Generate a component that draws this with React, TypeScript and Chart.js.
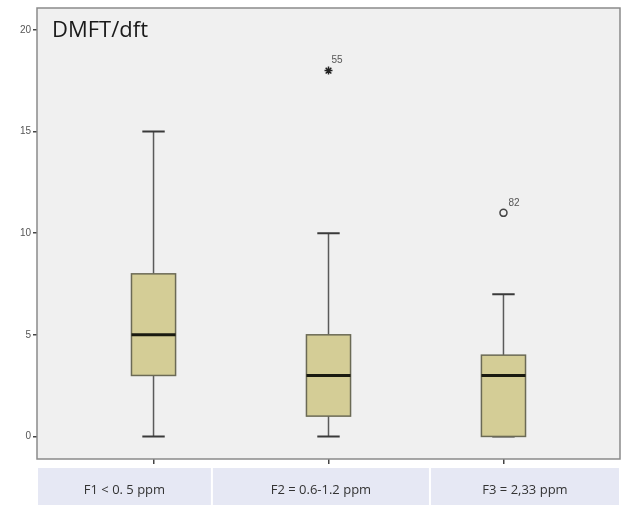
import React, { useEffect, useRef } from "react";
import { Chart, registerables } from "chart.js";

Chart.register(...registerables);

const categories = ["F1 < 0. 5 ppm", "F2 = 0.6-1.2 ppm", "F3 = 2,33 ppm"];
const positions = [1, 2, 3];
const mins = [0, 0, 0];
const q1s = [3, 1, 0];
const medians = [5, 3, 3];
const q3s = [8, 5, 4];
const maxs = [15, 10, 7];
const extremeValues: (number | null)[] = [null, 18, null];
const extremeIds: (string | null)[] = [null, "55", null];
const outlierValues: (number | null)[] = [null, null, 11];
const outlierIds: (string | null)[] = [null, null, "82"];
const yTicks = [0, 5, 10, 15, 20];
const chartTitle = "DMFT/dft";

const boxPlugin = {
  id: "boxPlugin",
  beforeDraw(chart: any) {
    const { ctx, chartArea } = chart;
    ctx.save();
    ctx.fillStyle = "#f0f0f0";
    ctx.fillRect(chartArea.left, chartArea.top, chartArea.right - chartArea.left, chartArea.bottom - chartArea.top);
    ctx.restore();
  },
  beforeDatasetsDraw(chart: any) {
    const { ctx } = chart;
    const xs = chart.scales.x;
    const ys = chart.scales.y;
    const boxHalf = 0.126;
    const capHalf = 0.064;
    ctx.save();
    positions.forEach((p, i) => {
      const cx = xs.getPixelForValue(p);
      const xl = xs.getPixelForValue(p - boxHalf);
      const xr = xs.getPixelForValue(p + boxHalf);
      const cl = xs.getPixelForValue(p - capHalf);
      const cr = xs.getPixelForValue(p + capHalf);
      const yMin = ys.getPixelForValue(mins[i]);
      const yQ1 = ys.getPixelForValue(q1s[i]);
      const yMed = ys.getPixelForValue(medians[i]);
      const yQ3 = ys.getPixelForValue(q3s[i]);
      const yMax = ys.getPixelForValue(maxs[i]);
      // whiskers
      ctx.strokeStyle = "#5a5a5a";
      ctx.lineWidth = 1.5;
      ctx.beginPath();
      ctx.moveTo(cx, yMax);
      ctx.lineTo(cx, yQ3);
      ctx.moveTo(cx, yQ1);
      ctx.lineTo(cx, yMin);
      ctx.stroke();
      ctx.lineWidth = 2;
      ctx.strokeStyle = "#3a3a3a";
      ctx.beginPath();
      ctx.moveTo(cl, yMax);
      ctx.lineTo(cr, yMax);
      ctx.moveTo(cl, yMin);
      ctx.lineTo(cr, yMin);
      ctx.stroke();
      // box
      ctx.fillStyle = "#d4cd96";
      ctx.fillRect(xl, yQ3, xr - xl, yQ1 - yQ3);
      ctx.strokeStyle = "#6b6a55";
      ctx.lineWidth = 1.5;
      ctx.strokeRect(xl, yQ3, xr - xl, yQ1 - yQ3);
      // median
      ctx.strokeStyle = "#1a1a10";
      ctx.lineWidth = 3;
      ctx.beginPath();
      ctx.moveTo(xl, yMed);
      ctx.lineTo(xr, yMed);
      ctx.stroke();
    });
    ctx.restore();
  },
  afterDraw(chart: any) {
    const { ctx, chartArea } = chart;
    const xs = chart.scales.x;
    const ys = chart.scales.y;
    ctx.save();
    // plot border
    ctx.strokeStyle = "#8a8a8a";
    ctx.lineWidth = 1.5;
    ctx.strokeRect(chartArea.left, chartArea.top, chartArea.right - chartArea.left, chartArea.bottom - chartArea.top);
    // title
    ctx.fillStyle = "#1a1a1a";
    ctx.font = "22px 'Open Sans', sans-serif";
    ctx.textAlign = "left";
    ctx.textBaseline = "middle";
    ctx.fillText(chartTitle, chartArea.left + 15, chartArea.top + 23);
    // outlier labels
    ctx.fillStyle = "#555";
    ctx.font = "10px 'Liberation Sans', sans-serif";
    ctx.textBaseline = "middle";
    positions.forEach((p, i) => {
      const ev = extremeValues[i];
      if (ev !== null) {
        ctx.fillText(String(extremeIds[i]), xs.getPixelForValue(p) + 3, ys.getPixelForValue(ev) - 10);
      }
      const ov = outlierValues[i];
      if (ov !== null) {
        ctx.fillText(String(outlierIds[i]), xs.getPixelForValue(p) + 5, ys.getPixelForValue(ov) - 10);
      }
    });
    // category band
    const w = chartArea.right - chartArea.left;
    const bounds = [0, 0.3, 0.674, 1].map((f) => chartArea.left + f * w);
    const bandTop = chartArea.bottom + 9;
    const bandBottom = chart.height;
    categories.forEach((c, i) => {
      const l = bounds[i];
      const r = bounds[i + 1];
      ctx.fillStyle = "#e6e8f4";
      ctx.fillRect(l + 1, bandTop, r - l - 2, bandBottom - bandTop);
      ctx.fillStyle = "#333";
      ctx.font = "13px 'Open Sans', sans-serif";
      ctx.textAlign = "center";
      ctx.textBaseline = "middle";
      ctx.fillText(c, (l + r) / 2, bandTop + 22);
    });
    ctx.restore();
  },
};

export default function App() {
  const ref = useRef<HTMLCanvasElement | null>(null);
  useEffect(() => {
    if (!ref.current) return;
    const extremeData = positions
      .map((p, i) => (extremeValues[i] !== null ? { x: p, y: extremeValues[i] } : null))
      .filter(Boolean);
    const outlierData = positions
      .map((p, i) => (outlierValues[i] !== null ? { x: p, y: outlierValues[i] } : null))
      .filter(Boolean);
    const chart = new Chart(ref.current, {
      type: "scatter",
      data: {
        datasets: [
          {
            label: "extreme",
            data: extremeData as any,
            pointStyle: "star",
            radius: 4,
            borderColor: "#222",
            borderWidth: 1.5,
            backgroundColor: "#222",
          },
          {
            label: "outlier",
            data: outlierData as any,
            pointStyle: "circle",
            radius: 3.5,
            borderColor: "#444",
            borderWidth: 1.5,
            backgroundColor: "rgba(0,0,0,0)",
          },
        ],
      },
      options: {
        animation: false,
        responsive: true,
        maintainAspectRatio: false,
        layout: { padding: { top: 7, right: 12, left: 0, bottom: 0 } },
        plugins: { legend: { display: false }, tooltip: { enabled: false }, title: { display: false } },
        scales: {
          x: {
            type: "linear",
            min: 0.334,
            max: 3.666,
            afterBuildTicks: (s: any) => {
              s.ticks = positions.map((v) => ({ value: v }));
            },
            afterFit: (s: any) => {
              s.height = 46;
            },
            ticks: { display: false },
            grid: { drawOnChartArea: false, drawTicks: true, tickLength: 5, color: "#444", lineWidth: 1.5 },
            border: { display: false },
          },
          y: {
            type: "linear",
            min: -1.11,
            max: 21.08,
            afterBuildTicks: (s: any) => {
              s.ticks = yTicks.map((v) => ({ value: v }));
            },
            afterFit: (s: any) => {
              s.width = 37;
            },
            ticks: { color: "#555", font: { size: 10, family: "'Liberation Sans', sans-serif" }, padding: 2 },
            grid: { drawOnChartArea: false, drawTicks: true, tickLength: 4, color: "#444", lineWidth: 1.5 },
            border: { display: false },
          },
        },
      },
      plugins: [boxPlugin],
    });
    return () => chart.destroy();
  }, []);
  return (
    <div style={{ position: "absolute", left: 0, top: 0, width: 632, height: 505, background: "#fff" }}>
      <canvas ref={ref} />
    </div>
  );
}
